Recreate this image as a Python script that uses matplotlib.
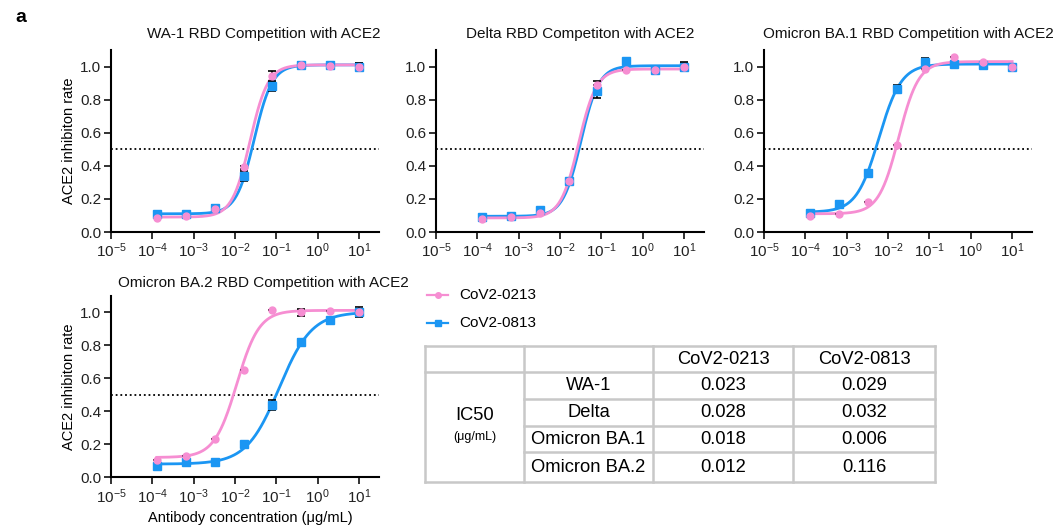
import numpy as np
import matplotlib.pyplot as plt
from matplotlib.ticker import FixedLocator, NullLocator

plt.rcParams['font.family'] = ['Liberation Sans', 'DejaVu Sans']
plt.rcParams['mathtext.fontset'] = 'custom'
plt.rcParams['mathtext.rm'] = 'Liberation Sans'
plt.rcParams['mathtext.it'] = 'Liberation Sans'

PINK = '#F68ED2'
BLUE = '#1B96F3'

# 5-fold dilutions from 10 ug/mL
conc = np.array([1.28e-4, 6.4e-4, 3.2e-3, 0.016, 0.08, 0.4, 2.0, 10.0])

titles = ['WA-1 RBD Competition with ACE2', 'Delta RBD Competiton with ACE2',
          'Omicron BA.1 RBD Competition with ACE2', 'Omicron BA.2 RBD Competition with ACE2']

# CoV2-0213 (pink)
y0213 = [
    [0.085, 0.095, 0.14, 0.39, 0.94, 1.01, 1.005, 1.0],
    [0.077, 0.089, 0.115, 0.31, 0.89, 0.98, 0.98, 1.0],
    [0.097, 0.109, 0.184, 0.523, 0.988, 1.059, 1.026, 1.0],
    [0.103, 0.129, 0.232, 0.647, 1.014, 0.998, 1.004, 1.0],
]
e0213 = [
    [0.0, 0.0, 0.01, 0.01, 0.035, 0.02, 0.0, 0.02],
    [0.0, 0.0, 0.0, 0.01, 0.02, 0.0, 0.0, 0.025],
    [0.0, 0.0, 0.0, 0.0, 0.0, 0.0, 0.0, 0.0],
    [0.0, 0.0, 0.0, 0.0, 0.0, 0.02, 0.0, 0.02],
]
# CoV2-0813 (blue)
y0813 = [
    [0.11, 0.11, 0.145, 0.34, 0.885, 1.01, 1.01, 1.0],
    [0.09, 0.097, 0.13, 0.31, 0.85, 1.035, 0.98, 1.0],
    [0.115, 0.168, 0.358, 0.865, 1.03, 1.018, 1.008, 1.0],
    [0.069, 0.093, 0.095, 0.202, 0.44, 0.817, 0.952, 1.0],
]
e0813 = [
    [0.0, 0.0, 0.02, 0.03, 0.03, 0.02, 0.0, 0.02],
    [0.0, 0.0, 0.0, 0.01, 0.04, 0.0, 0.0, 0.02],
    [0.0, 0.0, 0.0, 0.025, 0.02, 0.0, 0.0, 0.0],
    [0.0, 0.0, 0.0, 0.0, 0.03, 0.02, 0.0, 0.03],
]

# 4PL fit parameters: bottom, top, IC50, hill
fit0213 = [(0.09, 1.01, 0.023, 2.0), (0.085, 0.985, 0.028, 2.0),
           (0.11, 1.03, 0.018, 1.8), (0.12, 1.01, 0.011, 1.6)]
fit0813 = [(0.11, 1.01, 0.029, 2.0), (0.095, 1.005, 0.032, 2.0),
           (0.12, 1.015, 0.006, 1.6), (0.08, 1.0, 0.116, 1.1)]

strains = ['WA-1', 'Delta', 'Omicron BA.1', 'Omicron BA.2']
ic50_0213 = ['0.023', '0.028', '0.018', '0.012']
ic50_0813 = ['0.029', '0.032', '0.006', '0.116']


def fourpl(x, b, t, ic, h):
    return b + (t - b) / (1 + (ic / x) ** h)


W, H = 1064, 529
fig = plt.figure(figsize=(W / 100, H / 100), dpi=100)

# axes boxes in pixels: left, top(y=1.1), right, bottom
boxes = [(111, 50, 379, 232), (436, 50, 704, 232), (764, 50, 1032, 232), (111, 295.5, 379, 477.3)]
title_x = [0.57, 0.537, 0.54, 0.57]
xs = np.logspace(np.log10(conc[0]), np.log10(conc[-1]), 300)

for i, (l, t, r, b) in enumerate(boxes):
    ax = fig.add_axes([l / W, 1 - b / H, (r - l) / W, (b - t) / H])
    ax.set_xscale('log')
    ax.set_xlim(1e-5, 10 ** 1.48)
    ax.set_ylim(0, 1.1)
    ax.axhline(0.5, color='black', ls=(0, (1, 1.6)), lw=1.3, zorder=1)

    for yv, ev, fp, col, mk, ms in [(y0813[i], e0813[i], fit0813[i], BLUE, 's', 5.5),
                                    (y0213[i], e0213[i], fit0213[i], PINK, 'o', 5)]:
        ax.plot(xs, fourpl(xs, *fp), color=col, lw=2, zorder=2)
        ax.errorbar(conc, yv, yerr=ev, fmt='none', ecolor='black', elinewidth=1.2,
                    capsize=3, capthick=1.2, zorder=3)
        ax.plot(conc, yv, ls='none', marker=mk, ms=ms, color=col, zorder=4)

    ax.xaxis.set_major_locator(FixedLocator([10.0 ** k for k in range(-5, 2)]))
    ax.xaxis.set_minor_locator(NullLocator())
    ax.set_xticklabels(['10$^{\\mathregular{%d}}$' % k for k in range(-5, 2)])
    ax.set_yticks([0, 0.2, 0.4, 0.6, 0.8, 1.0])
    ax.set_yticklabels(['0.0', '0.2', '0.4', '0.6', '0.8', '1.0'])
    ax.tick_params(direction='out', length=5, width=1.3, labelsize=11, pad=2, colors='#222222')
    for s in ['top', 'right']:
        ax.spines[s].set_visible(False)
    for s in ['left', 'bottom']:
        ax.spines[s].set_linewidth(1.5)
    ax.text(title_x[i], 1.0 + (16 if i < 3 else 12.5) / (b - t), titles[i], transform=ax.transAxes,
            ha='center', va='center', fontsize=11, color='#111111')
    if i in (0, 3):
        ax.set_ylabel('ACE2 inhibiton rate', fontsize=10.5)
        ax.yaxis.set_label_coords(-(l - 69) / (r - l), 0.5)
        ax.yaxis.label.set_va('center')
    if i == 3:
        ax.set_xlabel('Antibody concentration (\u03bcg/mL)', fontsize=10.5)
        ax.xaxis.set_label_coords(0.52, -(518 - b) / (b - t))
        ax.xaxis.label.set_va('center')

fig.text(15 / W, 1 - 18 / H, 'a', fontsize=14, fontweight='bold', ha='left', va='center')

# legend and table in pixel coordinates
ov = fig.add_axes([0, 0, 1, 1])
ov.set_xlim(0, W)
ov.set_ylim(H, 0)
ov.axis('off')

ov.plot([427, 448], [295, 295], color=PINK, lw=1.6)
ov.plot([437.5], [295], marker='o', ms=4, color=PINK)
ov.text(459, 295, 'CoV2-0213', fontsize=11, va='center', ha='left')
ov.plot([427, 448], [323, 323], color=BLUE, lw=1.6)
ov.plot([437.5], [323], marker='s', ms=4.5, color=BLUE)
ov.text(459, 323, 'CoV2-0813', fontsize=11, va='center', ha='left')

gc = '#C8C8C8'
cols = [425, 524, 653, 793, 935]
rows = [346, 372, 399, 426, 452, 482]
for x in cols:
    ov.plot([x, x], [rows[0], rows[-1]], color=gc, lw=1.8)
for j, yy in enumerate(rows):
    x0 = cols[0] if j in (0, 1, 5) else cols[1]
    ov.plot([x0, cols[-1]], [yy, yy], color=gc, lw=1.8)

tfs = 13.2
ov.text((cols[2] + cols[3]) / 2, (rows[0] + rows[1]) / 2, 'CoV2-0213', fontsize=tfs, ha='center', va='center')
ov.text((cols[3] + cols[4]) / 2, (rows[0] + rows[1]) / 2, 'CoV2-0813', fontsize=tfs, ha='center', va='center')
for k in range(4):
    yc = (rows[k + 1] + rows[k + 2]) / 2
    ov.text((cols[1] + cols[2]) / 2, yc, strains[k], fontsize=tfs, ha='center', va='center')
    ov.text((cols[2] + cols[3]) / 2, yc, ic50_0213[k], fontsize=tfs, ha='center', va='center')
    ov.text((cols[3] + cols[4]) / 2, yc, ic50_0813[k], fontsize=tfs, ha='center', va='center')
ov.text((cols[0] + cols[1]) / 2, 416, 'IC50', fontsize=tfs, ha='center', va='center')
ov.text((cols[0] + cols[1]) / 2, 437, '(\u03bcg/mL)', fontsize=9, ha='center', va='center')

fig.savefig('out.png', dpi=100)
